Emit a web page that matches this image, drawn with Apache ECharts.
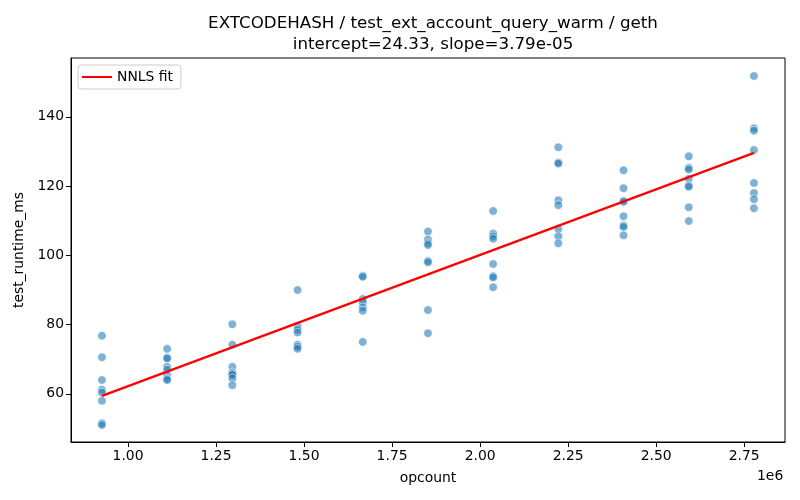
<!DOCTYPE html>
<html><head><meta charset="utf-8">
<script src="https://cdn.jsdelivr.net/npm/echarts@6/dist/echarts.min.js"></script>
<style>html,body{margin:0;padding:0;background:#fff}#c{width:800px;height:500px}</style>
</head><body><div id="c"></div>
<script>
const opcounts = [925926, 1111111, 1296296, 1481481, 1666667, 1851852, 2037037, 2222222, 2407407, 2592593, 2777778];
const runtimes = [
  [76.8, 70.6, 64.0, 61.2, 60.4, 58.0, 51.5, 51.0],
  [73.0, 70.5, 70.2, 67.8, 67.0, 65.3, 64.3, 64.0],
  [80.1, 74.2, 67.8, 66.2, 65.8, 65.5, 64.5, 62.5],
  [90.0, 79.5, 78.5, 77.7, 74.2, 73.6, 73.0],
  [94.1, 93.8, 87.4, 86.6, 85.0, 84.0, 75.0],
  [106.9, 104.6, 103.5, 103.0, 98.4, 98.0, 84.2, 77.5],
  [112.8, 106.3, 105.5, 104.8, 97.5, 94.0, 93.6, 90.8],
  [131.2, 126.8, 126.5, 115.9, 114.5, 107.6, 105.5, 103.5],
  [124.6, 119.4, 115.8, 115.5, 111.3, 108.6, 108.2, 105.8],
  [128.6, 125.3, 124.8, 122.1, 120.2, 119.8, 113.9, 109.9],
  [151.8, 136.7, 136.0, 130.4, 120.9, 118.0, 116.2, 113.6]
];
const fitX = [925926, 2777778];
const fitY = [59.42, 129.6];
const xTicks = [1000000, 1250000, 1500000, 1750000, 2000000, 2250000, 2500000, 2750000];
const yTicks = [60, 80, 100, 120, 140];

const points = [];
opcounts.forEach((x, i) => runtimes[i].forEach(v => points.push([x, v])));
const fitData = fitX.map((x, i) => [x, fitY[i]]);

const font = 'DejaVu Sans';
const chart = echarts.init(document.getElementById('c'));
chart.setOption({
  animation: false,
  textStyle: {fontFamily: font},
  title: {
    text: 'EXTCODEHASH / test_ext_account_query_warm / geth\nintercept=24.33, slope=3.79e-05',
    left: 428, top: 8, textAlign: 'center',
    textStyle: {fontFamily: font, fontSize: 16.7, fontWeight: 'normal', color: '#000', lineHeight: 21}
  },
  legend: {
    left: 78, top: 65,
    data: [{name: 'NNLS fit', icon: 'rect'}],
    itemWidth: 30, itemHeight: 2, itemGap: 10,
    backgroundColor: '#fff', borderColor: '#ccc', borderWidth: 1, borderRadius: 3,
    padding: [5, 8, 5, 4],
    textStyle: {fontFamily: font, fontSize: 13.9, color: '#000'}
  },
  grid: {left: 71, right: 15, top: 58, bottom: 58, show: true, borderColor: '#000', borderWidth: 1, containLabel: false},
  xAxis: {
    type: 'value', min: 838000, max: 2866000,
    name: 'opcount', nameLocation: 'middle', nameGap: 29,
    nameTextStyle: {fontFamily: font, fontSize: 13.9, color: '#000'},
    axisLine: {show: true, lineStyle: {color: '#000'}},
    axisTick: {show: true, length: 5, lineStyle: {color: '#000'}, customValues: xTicks},
    axisLabel: {color: '#000', fontSize: 13.9, fontFamily: font, margin: 7, customValues: xTicks,
      formatter: v => (v / 1e6).toFixed(2)},
    splitLine: {show: false}
  },
  yAxis: {
    type: 'value', min: 46.1, max: 157.0,
    name: 'test_runtime_ms', nameLocation: 'middle', nameGap: 40, nameRotate: 90,
    nameTextStyle: {fontFamily: font, fontSize: 13.9, color: '#000'},
    axisLine: {show: true, lineStyle: {color: '#000'}},
    axisTick: {show: true, length: 5, lineStyle: {color: '#000'}, customValues: yTicks},
    axisLabel: {color: '#000', fontSize: 13.9, fontFamily: font, margin: 7, customValues: yTicks},
    splitLine: {show: false}
  },
  graphic: [{
    type: 'text', left: 757, top: 469,
    style: {text: '1e6', fontFamily: font, fontSize: 13.9, fill: '#000'}
  }],
  series: [
    {
      type: 'scatter', name: 'data', data: points, symbolSize: 8.5,
      itemStyle: {color: 'rgba(31,119,180,0.72)', borderColor: '#fff', borderWidth: 0.7}
    },
    {
      type: 'line', name: 'NNLS fit', data: fitData, showSymbol: false, symbol: 'none',
      lineStyle: {color: '#ff0000', width: 2.2}, itemStyle: {color: '#ff0000'}, z: 5
    }
  ]
});
</script></body></html>
